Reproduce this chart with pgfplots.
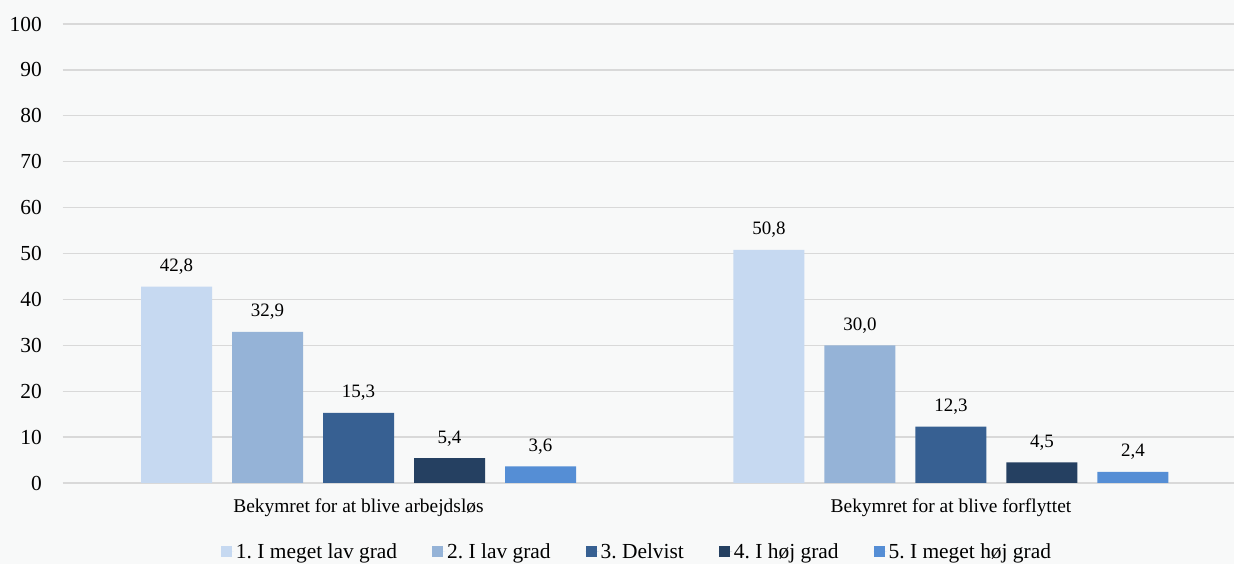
\documentclass[border=0pt]{standalone}
\usepackage{fontspec}
\setmainfont{Liberation Serif}
\usepackage{pgfplots}
\pgfplotsset{compat=1.18}
\frenchspacing
\definecolor{bg}{HTML}{F8F9F9}
\definecolor{gridc}{HTML}{D9D9D9}
\definecolor{cA}{HTML}{C6D9F1}
\definecolor{cB}{HTML}{95B3D7}
\definecolor{cC}{HTML}{376092}
\definecolor{cD}{HTML}{254061}
\definecolor{cE}{HTML}{558ED5}
\pgfplotsset{sq/.style={legend image code/.code={\path (0bp,0bp) -- (13bp,0bp);\fill[##1,draw=none] (0bp,-5.5bp) rectangle (11bp,5.5bp);}}}
\begin{document}
\begin{tikzpicture}[x=1bp,y=1bp]
\fill[bg] (0,0) rectangle (1234,564);
\begin{axis}[
  at={(62.5bp,81bp)}, anchor=south west,
  scale only axis, width=1171.5bp, height=459bp,
  ymin=0, ymax=100, ytick={0,10,...,100},
  xmin=-0.4996, xmax=1.4777,
  xtick={0,1},
  xticklabels={Bekymret for at blive arbejdsløs, Bekymret for at blive forflyttet},
  ybar=20bp, bar width=71bp,
  axis line style={draw=none},
  major tick length=0pt,
  ymajorgrids, grid style={color=gridc, line width=1.3bp},
  /pgf/number format/assume math mode=true,
  yticklabel style={font=\fontsize{21.5}{24}\selectfont, anchor=east, inner sep=0pt, xshift=-20.5bp},
  xticklabel style={font=\fontsize{19.5}{22}\selectfont, anchor=base, inner sep=0pt, yshift=-30bp},
  clip=false,
  nodes near coords={\pgfmathprintnumber[fixed,fixed zerofill,precision=1,use comma,assume math mode=true]{\pgfplotspointmeta}},
  every node near coord/.append style={font=\fontsize{19}{22}\selectfont, anchor=base, inner sep=0pt, yshift=15bp, text=black},
  legend columns=5,
  legend style={at={(axis description cs:0.4904,-0.1503)}, anchor=center, draw=none, fill=none,
    font=\fontsize{21.5}{24}\selectfont,
    nodes={inner sep=2bp},
    /tikz/every even column/.append style={column sep=33bp}},
]
\addplot[fill=cA, draw=none, sq] coordinates {(0,42.8) (1,50.8)};
\addplot[fill=cB, draw=none, sq] coordinates {(0,32.9) (1,30.0)};
\addplot[fill=cC, draw=none, sq] coordinates {(0,15.3) (1,12.3)};
\addplot[fill=cD, draw=none, sq] coordinates {(0,5.4) (1,4.5)};
\addplot[fill=cE, draw=none, sq] coordinates {(0,3.6) (1,2.4)};
\legend{1. I meget lav grad, 2. I lav grad, 3. Delvist, 4. I høj grad, 5. I meget høj grad}
\end{axis}
\pgfresetboundingbox
\useasboundingbox (0,0) rectangle (1234,564);
\end{tikzpicture}
\end{document}
